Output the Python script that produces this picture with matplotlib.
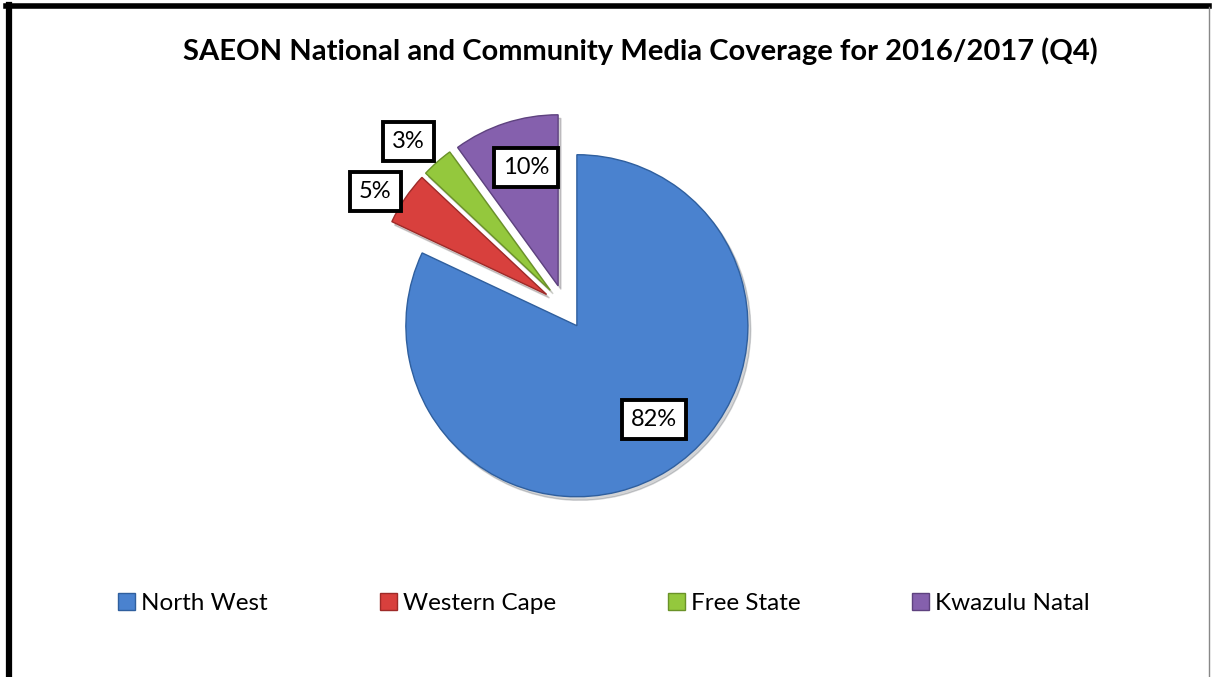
import numpy as np
import matplotlib

matplotlib.use("Agg")
import matplotlib.pyplot as plt
from matplotlib.lines import Line2D
from matplotlib.patches import Patch

plt.rcParams["font.family"] = ["Lato", "DejaVu Sans"]

title = "SAEON National and Community Media Coverage for 2016/2017 (Q4)"
regions = ["North West", "Western Cape", "Free State", "Kwazulu Natal"]
shares = [82, 5, 3, 10]
colors = ["#4a82cf", "#d8403d", "#94c83d", "#8560ad"]
edge_colors = ["#2f5f9e", "#9e2a28", "#6a9228", "#5e427f"]
label_dist = [0.84, 1.30, 1.33, 0.845]  # label radius, in pie radii
label_turn = [5.8, 2.8, 2.0, -2.3]      # small nudge off the mid angle, degrees

fig = plt.figure(figsize=(12.12, 6.77), dpi=100)
ax = fig.add_axes([0.2545, 0.1677, 0.4233, 0.7578])
ax.set_aspect("equal")

wedges, _ = ax.pie(
    shares,
    colors=colors,
    startangle=90,
    counterclock=False,
    explode=[0.13] * len(shares),
    radius=1.0,
    shadow=dict(ox=0.012, oy=-0.015, alpha=0.18, shade=0.85),
    wedgeprops=dict(linewidth=1.0),
)
for w, ec in zip(wedges, edge_colors):
    w.set_edgecolor(ec)

for w, pct, d, turn in zip(wedges, shares, label_dist, label_turn):
    mid = np.deg2rad((w.theta1 + w.theta2) / 2 + turn)
    ax.text(
        d * np.cos(mid), d * np.sin(mid), f"{pct}%",
        ha="center", va="center", fontsize=17,
        bbox=dict(boxstyle="square,pad=0.38", facecolor="white",
                  edgecolor="black", linewidth=2.8),
        zorder=5,
    )

ax.set_xlim(-1.5, 1.5)
ax.set_ylim(-1.5, 1.5)
ax.axis("off")

fig.text(0.528, 0.925, title, ha="center", va="center",
         fontsize=21, fontweight="bold")

handles = [Patch(facecolor=c, edgecolor=ec) for c, ec in zip(colors, edge_colors)]
fig.legend(handles, regions, loc="center", bbox_to_anchor=(0.4985, 0.109),
           ncol=4, frameon=False, fontsize=17.5, handlelength=0.7,
           handleheight=0.7, handletextpad=0.25, columnspacing=4.6)

# outer frame, as in the source image
fig.add_artist(Line2D([0.0074, 0.0074], [0, 0.9925], color="black",
                      linewidth=4.5, transform=fig.transFigure))
fig.add_artist(Line2D([0.005, 0.9975], [0.9918, 0.9918], color="black",
                      linewidth=4.0, transform=fig.transFigure))
fig.add_artist(Line2D([0.9975, 0.9975], [0, 0.99], color="#888888",
                      linewidth=1.0, transform=fig.transFigure))

fig.savefig("out.png", dpi=100)
